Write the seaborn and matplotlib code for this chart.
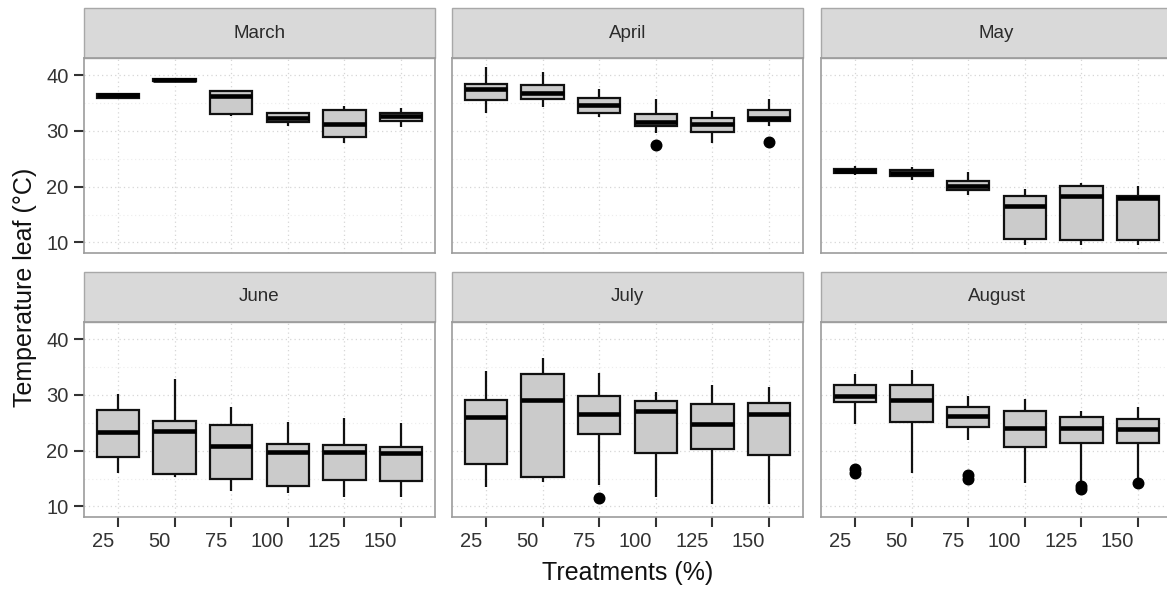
import numpy as np
import pandas as pd
import seaborn as sns
import matplotlib
matplotlib.use("Agg")
import matplotlib.pyplot as plt
from matplotlib.patches import Rectangle
from matplotlib.transforms import ScaledTranslation

months = ["March", "April", "May", "June", "July", "August"]
treatments = ["25", "50", "75", "100", "125", "150"]

# five-number summaries (one row per month, one value per treatment)
whisker_low = [
    [35.7, 38.85, 32.7, 30.9, 27.9, 30.8],
    [33.3, 34.3, 32.6, 29.6, 27.9, 30.9],
    [22.1, 21.25, 18.45, 9.6, 9.6, 9.6],
    [15.95, 15.35, 12.7, 12.4, 11.75, 11.75],
    [13.55, 14.35, 13.9, 11.75, 10.45, 10.45],
    [24.85, 15.95, 21.85, 14.15, 14.65, 14.95],
]
lower_quartile = [
    [36.0, 38.9, 33.0, 31.7, 28.9, 31.8],
    [35.5, 35.7, 33.3, 30.9, 29.9, 31.8],
    [22.45, 21.85, 19.45, 10.65, 10.5, 10.5],
    [18.95, 15.85, 14.95, 13.75, 14.8, 14.65],
    [17.6, 15.35, 23.0, 19.6, 20.35, 19.25],
    [28.7, 25.1, 24.2, 20.65, 21.35, 21.35],
]
median = [
    [36.4, 39.2, 36.3, 32.3, 31.25, 32.7],
    [37.6, 36.9, 34.6, 31.7, 31.2, 32.4],
    [22.85, 22.4, 20.2, 16.5, 18.3, 17.9],
    [23.3, 23.45, 20.8, 19.85, 19.7, 19.55],
    [26.0, 29.15, 26.6, 27.2, 24.8, 26.5],
    [29.75, 29.15, 26.2, 24.05, 24.05, 23.95],
]
upper_quartile = [
    [36.7, 39.35, 37.1, 33.2, 33.75, 33.3],
    [38.4, 38.2, 36.0, 33.0, 32.3, 33.75],
    [23.2, 23.0, 20.95, 18.4, 20.2, 18.3],
    [27.35, 25.4, 24.7, 21.25, 21.1, 20.75],
    [29.15, 33.7, 29.9, 29.0, 28.4, 28.65],
    [31.85, 31.85, 27.8, 27.1, 26.0, 25.75],
]
whisker_high = [
    [36.8, 39.5, 37.4, 33.4, 34.5, 34.05],
    [41.4, 40.6, 37.6, 35.7, 33.6, 35.8],
    [23.75, 23.6, 22.6, 19.6, 20.65, 20.2],
    [30.2, 32.9, 27.8, 25.1, 25.85, 25.0],
    [34.25, 36.65, 33.95, 30.5, 31.85, 31.4],
    [33.7, 34.55, 29.75, 29.3, 27.2, 27.8],
]
outliers = [
    [[], [], [], [], [], []],
    [[], [], [], [27.5], [], [28.1]],
    [[], [], [], [], [], []],
    [[], [], [], [], [], []],
    [[], [], [11.45], [], [], []],
    [[16.8, 15.95], [], [15.7, 14.95], [], [13.7, 13.2], [14.15]],
]


def observations(lo, q1, med, q3, hi, outs):
    # 13 values whose quartiles are exactly q1 / median / q3 (indices 3, 6, 9)
    vals = [lo] * 3 + [q1] * 3 + [med] + [q3] * 3 + [hi] * 3
    for i, o in enumerate(outs):
        vals[i] = o
    return vals


rows = []
for mi, m in enumerate(months):
    for ti, t in enumerate(treatments):
        for v in observations(whisker_low[mi][ti], lower_quartile[mi][ti], median[mi][ti],
                              upper_quartile[mi][ti], whisker_high[mi][ti], outliers[mi][ti]):
            rows.append({"Month": m, "Treatment": t, "Temperature": v})
df = pd.DataFrame(rows)

sns.set_style("white")
plt.rcParams["font.family"] = ["Liberation Sans", "DejaVu Sans"]

g = sns.catplot(
    data=df, x="Treatment", y="Temperature", col="Month", col_wrap=3,
    kind="box", order=treatments, col_order=months,
    color="#cbcbcb", saturation=1, width=0.75,
    linecolor="#111111", linewidth=1.6, showcaps=False, fliersize=7.6,
    flierprops=dict(marker="o", markerfacecolor="black", markeredgecolor="black"),
    medianprops=dict(linewidth=3.3, color="black"),
    facet_kws=dict(despine=False), height=3, aspect=1.2,
)
fig = g.figure
fig.set_size_inches(11.67, 5.9)
fig.set_dpi(100)

W, H = 1167.0, 590.0
col_left = [84, 452, 821]
row_top = [58, 322]
pw, ph = 351, 195
strip_h = 50
strip_frac = strip_h / ph

axes = g.axes.flatten()
for i, ax in enumerate(axes):
    r, c = divmod(i, 3)
    ax.set_position([col_left[c] / W, 1 - (row_top[r] + ph) / H, pw / W, ph / H])
    ax.set_xlim(-0.6, 5.6)
    ax.set_ylim(8.1, 43.1)
    ax.set_yticks([10, 20, 30, 40])
    ax.set_yticks([15, 25, 35], minor=True)
    ax.set_title("")
    ax.set_xlabel("")
    ax.set_ylabel("")
    ax.set_axisbelow(True)
    ax.grid(True, which="major", linestyle=(0, (1, 2.5)), color="#d6d6d6", linewidth=0.9)
    ax.grid(True, which="minor", axis="y", linestyle=(0, (1, 2.5)), color="#ececec", linewidth=0.8)
    for s in ax.spines.values():
        s.set_visible(True)
        s.set_edgecolor("#9c9c9c")
        s.set_linewidth(1.2)
    ax.tick_params(axis="both", which="major", length=7, width=1.5, color="#333333",
                   labelsize=14.5, labelcolor="#333333")
    ax.tick_params(axis="x", pad=3.5)
    ax.tick_params(axis="y", pad=4)
    ax.tick_params(which="minor", length=0)
    if r == 0:
        ax.tick_params(axis="x", bottom=False, labelbottom=False)
    else:
        ax.tick_params(axis="x", bottom=True, labelbottom=True)
        ax.set_xticks(range(len(treatments)))
        ax.set_xticklabels(treatments)
        off = ScaledTranslation(-4 / 100, 0, fig.dpi_scale_trans)
        for lab in ax.get_xticklabels():
            lab.set_horizontalalignment("right")
            lab.set_transform(lab.get_transform() + off)
    if c == 0:
        ax.tick_params(axis="y", left=True, labelleft=True)
    else:
        ax.tick_params(axis="y", left=False, labelleft=False)
    ax.add_patch(Rectangle((0, 1), 1, strip_frac, transform=ax.transAxes, clip_on=False,
                           facecolor="#d9d9d9", edgecolor="#a8a8a8", linewidth=1.0))
    ax.text(0.5, 1 + strip_frac / 2, months[i], transform=ax.transAxes,
            ha="center", va="center", fontsize=13.5, color="#2b2b2b")

fig.text(628 / W, 1 - 573 / H, "Treatments (%)", ha="center", va="center", fontsize=18,
         color="#111111")
fig.text(25 / W, 1 - 287.5 / H, "Temperature leaf (°C)", ha="center", va="center",
         rotation=90, fontsize=18, color="#111111")

fig.savefig("out.png", dpi=100)
